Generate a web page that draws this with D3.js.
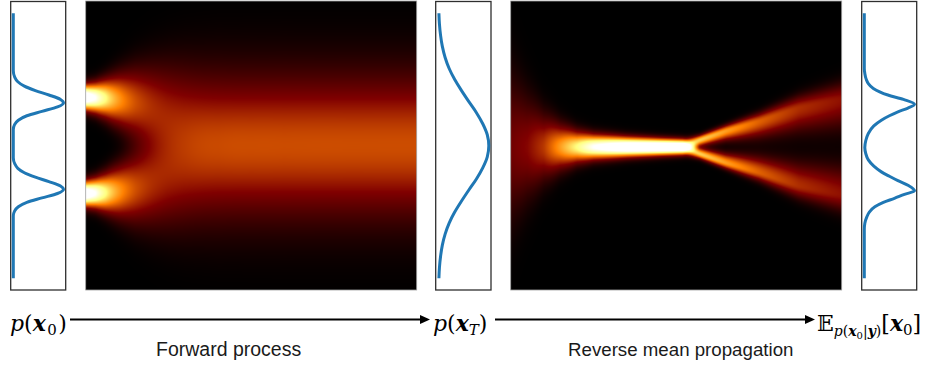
<!DOCTYPE html>
<html>
<head>
<meta charset="utf-8">
<script src="https://cdn.jsdelivr.net/npm/d3@7"></script>
<style>
  body { margin: 0; background: #fff; }
  svg { display: block; }
</style>
</head>
<body>
<script>
// ---------------- data ----------------
// position u runs from -3 (top) to +3 (bottom); densities relative to the curve's peak

// p(x0): two narrow modes
const p0U = [-3, -1.7, -1.55, -1.45, -1.35, -1.25, -1.15, -1.05, -0.97, -0.88, -0.78, -0.68, -0.58, -0.48, -0.37,
             0.27, 0.41, 0.51, 0.61, 0.71, 0.81, 0.91, 0.99, 1.08, 1.18, 1.28, 1.38, 1.48, 1.59, 3];
const p0D = [0, 0, 0.03, 0.09, 0.22, 0.44, 0.71, 0.94, 1, 0.88, 0.57, 0.27, 0.1, 0.025, 0,
             0, 0.03, 0.09, 0.22, 0.44, 0.71, 0.94, 1, 0.88, 0.57, 0.27, 0.1, 0.025, 0, 0];

// p(xT): one wide mode
const pTU = [-3, -2.75, -2.5, -2.25, -2, -1.75, -1.5, -1.25, -1, -0.75, -0.5, -0.25, 0,
             0.25, 0.5, 0.75, 1, 1.25, 1.5, 1.75, 2, 2.25, 2.5, 2.75, 3];
const pTD = [0.012, 0.023, 0.045, 0.08, 0.135, 0.215, 0.325, 0.46, 0.605, 0.755, 0.88, 0.97, 1,
             0.97, 0.88, 0.755, 0.605, 0.46, 0.325, 0.215, 0.135, 0.08, 0.045, 0.023, 0.012];

// E[x0 | y]: two broader modes, nearly touching in the middle
const pEU = [-3, -1.75, -1.64, -1.5, -1.41, -1.3, -1.15, -1.05, -0.94, -0.85, -0.77, -0.68, -0.58, -0.45, -0.28, -0.12,
             0.04, 0.18, 0.32, 0.46, 0.59, 0.69, 0.79, 0.9, 1.02, 1.1, 1.19, 1.28, 1.38, 1.5, 1.61, 1.76, 1.9, 3];
const pED = [0, 0, 0.01, 0.04, 0.08, 0.18, 0.47, 0.78, 1, 0.86, 0.67, 0.5, 0.34, 0.19, 0.08, 0.03,
             0.01, 0.03, 0.08, 0.19, 0.34, 0.5, 0.67, 0.88, 1, 0.8, 0.6, 0.38, 0.21, 0.1, 0.05, 0.01, 0, 0];

// forward process heat map: keyframes over time (0 = left, 1 = right)
// modes sit at +/- fwdCenter with spread fwdSpread, equal mass
const fwdT      = [0, 0.03, 0.06, 0.1, 0.15, 0.2, 0.25, 0.3, 0.4, 0.5, 0.6, 0.8, 1];
const fwdCenter = [1, 0.99, 0.98, 0.95, 0.89, 0.81, 0.72, 0.63, 0.44, 0.28, 0.16, 0.04, 0];
const fwdSpread = [0.17, 0.2, 0.26, 0.36, 0.49, 0.6, 0.7, 0.78, 0.9, 0.96, 0.99, 1, 1];

// reverse mean propagation heat map: keyframes (branch split, spreads, colour level per branch)
const revT         = [0, 0.05, 0.1, 0.15, 0.2, 0.25, 0.35, 0.45, 0.52, 0.57, 0.65, 0.75, 0.87, 1];
const revSplit     = [0, 0, 0, 0, 0, 0, 0, 0, 0, 0.14, 0.33, 0.53, 0.8, 0.98];
const revSpreadOut = [1.0, 0.7, 0.45, 0.3, 0.21, 0.165, 0.13, 0.11, 0.1, 0.07, 0.085, 0.12, 0.18, 0.24];
const revSpreadIn  = [1.0, 0.7, 0.45, 0.3, 0.21, 0.165, 0.13, 0.11, 0.1, 0.08, 0.13, 0.22, 0.32, 0.4];
const revLevel     = [0.11, 0.13, 0.18, 0.28, 0.38, 0.5, 0.62, 0.66, 0.66, 0.66, 0.56, 0.44, 0.34, 0.28];
const revMid = 0.03;

// ---------------- layout ----------------
const width = 945, height = 375;
const yTop = 1.5, yBot = 290;
const boxA = [10.7, 65.7], heatF = [85.7, 416.7], boxB = [435.7, 491], heatR = [510.7, 841.7], boxC = [861.7, 916.7];

const svg = d3.select("body").append("svg")
  .attr("width", width)
  .attr("height", height);

// afmhot colormap
const afmhot = d3.scaleLinear()
  .domain([0, 0.25, 0.5, 0.75, 1])
  .range(["#000000", "#800000", "#ff8000", "#ffff80", "#ffffff"])
  .clamp(true);

// ---------------- density panels ----------------
const uScale = d3.scaleLinear().domain([-3, 3]).range([13.3, 278.3]);

function densityPanel(box, us, ds) {
  svg.append("rect")
    .attr("x", box[0]).attr("y", yTop)
    .attr("width", box[1] - box[0]).attr("height", yBot - yTop)
    .attr("fill", "none")
    .attr("stroke", "#2e2e2e")
    .attr("stroke-width", 1.3);

  const dScale = d3.scaleLinear().domain([0, 1]).range([box[0] + 2.6, box[1] - 2.2]);
  const line = d3.line()
    .x(d => dScale(d[1]))
    .y(d => uScale(d[0]))
    .curve(d3.curveMonotoneY);

  svg.append("path")
    .datum(us.map((u, i) => [u, ds[i]]))
    .attr("d", line)
    .attr("fill", "none")
    .attr("stroke", "#1f77b4")
    .attr("stroke-width", 3);
}

densityPanel(boxA, p0U, p0D);
densityPanel(boxB, pTU, pTD);
densityPanel(boxC, pEU, pED);

// ---------------- heat maps ----------------
function heatmap(box, valueAt) {
  const w = Math.round(box[1] - box[0]), h = Math.round(yBot - 1);
  const canvas = document.createElement("canvas");
  canvas.width = w; canvas.height = h;
  const ctx = canvas.getContext("2d");
  const img = ctx.createImageData(w, h);
  const tOf = d3.scaleLinear().domain([0, w]).range([0, 1]);
  const uOf = d3.scaleLinear().domain([0, h]).range([-3, 3]);
  for (let i = 0; i < w; i++) {
    const t = tOf(i + 0.5);
    for (let j = 0; j < h; j++) {
      const c = d3.rgb(afmhot(valueAt(t, uOf(j + 0.5))));
      const k = (j * w + i) * 4;
      img.data[k] = c.r; img.data[k + 1] = c.g; img.data[k + 2] = c.b; img.data[k + 3] = 255;
    }
  }
  ctx.putImageData(img, 0, 0);
  svg.append("image")
    .attr("x", box[0]).attr("y", 1)
    .attr("width", w).attr("height", h)
    .attr("preserveAspectRatio", "none")
    .attr("href", canvas.toDataURL());
  svg.append("rect")
    .attr("x", box[0]).attr("y", 1)
    .attr("width", w).attr("height", h)
    .attr("fill", "none")
    .attr("stroke", "#a0a0a0")
    .attr("stroke-width", 0.8);
}

const SQ2PI = Math.sqrt(2 * Math.PI);
const fC = d3.scaleLinear().domain(fwdT).range(fwdCenter).clamp(true);
const fS = d3.scaleLinear().domain(fwdT).range(fwdSpread).clamp(true);
heatmap(heatF, (t, u) => {
  const m = fC(t), s = fS(t);
  const g = x => Math.exp(-x * x / (2 * s * s));
  return 0.5 * (g(u - m) + g(u + m)) / (s * SQ2PI);
});

const rD = d3.scaleLinear().domain(revT).range(revSplit).clamp(true);
const rSo = d3.scaleLinear().domain(revT).range(revSpreadOut).clamp(true);
const rSi = d3.scaleLinear().domain(revT).range(revSpreadIn).clamp(true);
const rL = d3.scaleLinear().domain(revT).range(revLevel).clamp(true);
heatmap(heatR, (t, u) => {
  const d = rD(t), so = rSo(t), si = rSi(t), lv = rL(t);
  const up = revMid - d, lo = revMid + d;
  const half = (x, s) => Math.exp(-x * x / (2 * s * s));
  const a = u < up ? half(u - up, so) : half(u - up, si);   // upper branch
  const b = u > lo ? half(u - lo, so) : half(u - lo, si);   // lower branch
  return lv * (a + b);
});

// ---------------- arrows ----------------
const arrowY = 319.5;
function arrow(x0, x1) {
  svg.append("line")
    .attr("x1", x0).attr("x2", x1 - 8)
    .attr("y1", arrowY).attr("y2", arrowY)
    .attr("stroke", "#000").attr("stroke-width", 2);
  svg.append("path")
    .attr("d", `M${x1},${arrowY} L${x1 - 10},${arrowY - 4.5} L${x1 - 10},${arrowY + 4.5} Z`)
    .attr("fill", "#000");
}
arrow(70, 430);
arrow(495, 815);

// ---------------- labels ----------------
const mathFont = "'DejaVu Serif', serif";
const base = 331;

function mathLabel(x, parts) {
  const t = svg.append("text")
    .attr("x", x).attr("y", base)
    .attr("font-family", mathFont)
    .attr("font-size", 22)
    .attr("fill", "#000");
  parts.forEach(p => {
    const s = t.append("tspan").text(p.s);
    if (p.it) s.attr("font-style", "italic");
    if (p.b) s.attr("font-weight", "bold");
    if (p.size) s.attr("font-size", p.size);
    if (p.dy) s.attr("dy", p.dy);
    if (p.dx) s.attr("dx", p.dx);
  });
}

mathLabel(10, [
  { s: "p", it: 1 }, { s: "(" }, { s: "x", it: 1, b: 1 }, { s: "0", size: 15, dy: 4, dx: 1.5 }, { s: ")", dy: -4, dx: 1.5 }
]);
mathLabel(433, [
  { s: "p", it: 1 }, { s: "(" }, { s: "x", it: 1, b: 1 }, { s: "T", it: 1, size: 15, dy: 4 }, { s: ")", dy: -4 }
]);
mathLabel(817, [
  { s: "𝔼" },
  { s: "p", it: 1, size: 14, dy: 5 }, { s: "(", size: 14 }, { s: "x", it: 1, b: 1, size: 14 },
  { s: "0", size: 10, dy: 3 }, { s: "|", size: 14, dy: -3 }, { s: "y", it: 1, b: 1, size: 14 }, { s: ")", size: 14 },
  { s: "[", dy: -5 }, { s: "x", it: 1, b: 1 }, { s: "0", size: 15, dy: 4 }, { s: "]", dy: -4 }
]);

svg.append("text")
  .attr("x", 156).attr("y", 356)
  .attr("font-family", "'Liberation Sans', Arial, sans-serif")
  .attr("font-size", 19.5)
  .attr("fill", "#1a1a1a")
  .text("Forward process");

svg.append("text")
  .attr("x", 568).attr("y", 356)
  .attr("font-family", "'Liberation Sans', Arial, sans-serif")
  .attr("font-size", 18.7)
  .attr("fill", "#1a1a1a")
  .text("Reverse mean propagation");
</script>
</body>
</html>
